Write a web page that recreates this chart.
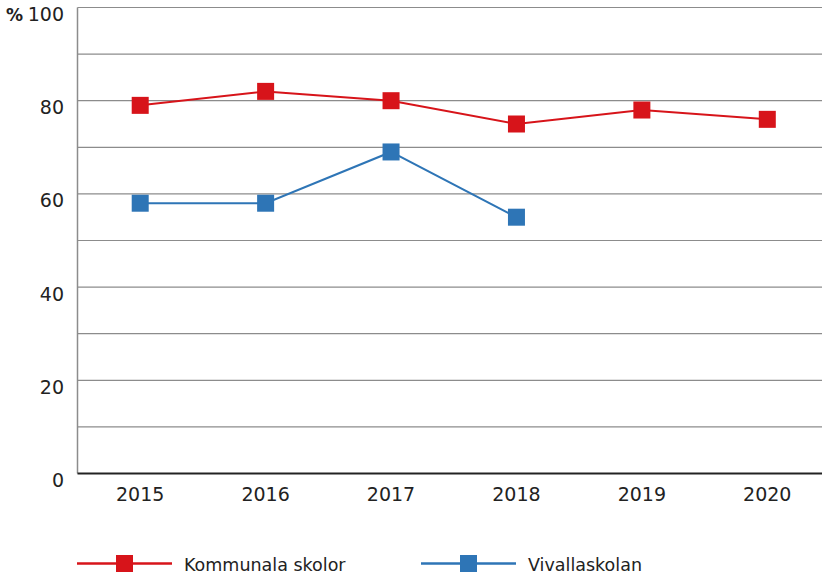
<!DOCTYPE html>
<html>
<head>
<meta charset="utf-8">
<script src="https://cdn.jsdelivr.net/npm/d3@7"></script>
<style>
  body { margin: 0; background: #fff; }
  text { font-family: 'DejaVu Sans', sans-serif; fill: #222; }
</style>
</head>
<body>
<div id="chart"></div>
<script>
let years = ['2015', '2016', '2017', '2018', '2019', '2020']
let kommunala = [79, 82, 80, 75, 78, 76]
let vivalla = [58, 58, 69, 55, null, null]
let yTicks = [0, 20, 40, 60, 80, 100]
let seriesNames = ['Kommunala skolor', 'Vivallaskolan']
let seriesColors = ['#d7141a', '#2e75b6']

let width = 822
let height = 575
let margin = { top: 7.5, left: 77.5, right: -8, bottom: 101.5 }

let svg = d3
  .select('#chart')
  .append('svg')
  .attr('width', width)
  .attr('height', height)

let x = d3
  .scaleBand()
  .domain(years)
  .range([margin.left, width - margin.right])

let y = d3
  .scaleLinear()
  .domain([0, 100])
  .range([height - margin.bottom, margin.top])

// gridlines every 10
svg
  .selectAll('.grid')
  .data(d3.range(10, 101, 10))
  .enter()
  .append('line')
  .attr('class', 'grid')
  .attr('x1', margin.left)
  .attr('x2', width)
  .attr('y1', d => y(d))
  .attr('y2', d => y(d))
  .attr('stroke', '#8c8c8c')
  .attr('stroke-width', 1.2)

svg
  .append('line')
  .attr('x1', margin.left)
  .attr('x2', margin.left)
  .attr('y1', y(100))
  .attr('y2', y(0))
  .attr('stroke', '#8c8c8c')
  .attr('stroke-width', 1.5)

svg
  .append('line')
  .attr('x1', margin.left)
  .attr('x2', width)
  .attr('y1', y(0))
  .attr('y2', y(0))
  .attr('stroke', '#222')
  .attr('stroke-width', 2)

// y labels
svg
  .selectAll('.ylabel')
  .data(yTicks)
  .enter()
  .append('text')
  .attr('class', 'ylabel')
  .attr('x', 64)
  .attr('y', d => y(d) + 13.5)
  .attr('text-anchor', 'end')
  .style('font-size', '19px')
  .text(d => d)

svg
  .append('text')
  .attr('x', 6)
  .attr('y', y(100) + 13.5)
  .style('font-size', '17px')
  .style('font-weight', 'bold')
  .text('%')

// x labels
svg
  .selectAll('.xlabel')
  .data(years)
  .enter()
  .append('text')
  .attr('class', 'xlabel')
  .attr('x', d => x(d) + x.bandwidth() / 2)
  .attr('y', y(0) + 27)
  .attr('text-anchor', 'middle')
  .style('font-size', '19px')
  .text(d => d)

let line = d3
  .line()
  .defined(d => d.v != null)
  .x(d => x(d.year) + x.bandwidth() / 2)
  .y(d => y(d.v))

;[kommunala, vivalla].forEach((values, i) => {
  let pts = years.map((year, j) => ({ year: year, v: values[j] }))
  svg
    .append('path')
    .datum(pts)
    .attr('d', line)
    .attr('fill', 'none')
    .attr('stroke', seriesColors[i])
    .attr('stroke-width', 2)

  svg
    .selectAll('.m' + i)
    .data(pts.filter(d => d.v != null))
    .enter()
    .append('rect')
    .attr('x', d => x(d.year) + x.bandwidth() / 2 - 8.5)
    .attr('y', d => y(d.v) - 8.5)
    .attr('width', 17)
    .attr('height', 17)
    .attr('fill', seriesColors[i])
})

// legend
let legendX = [77, 421]
let legendY = 563.5

seriesNames.forEach((name, i) => {
  let g = svg.append('g').attr('transform', `translate(${legendX[i]},${legendY})`)
  g.append('line')
    .attr('x1', 0)
    .attr('x2', 95)
    .attr('stroke', seriesColors[i])
    .attr('stroke-width', 2.5)
  g.append('rect')
    .attr('x', 47.5 - 8.5)
    .attr('y', -8.5)
    .attr('width', 17)
    .attr('height', 17)
    .attr('fill', seriesColors[i])
  g.append('text')
    .attr('x', 107)
    .attr('y', 7)
    .style('font-size', '17.5px')
    .text(name)
})
</script>
</body>
</html>
